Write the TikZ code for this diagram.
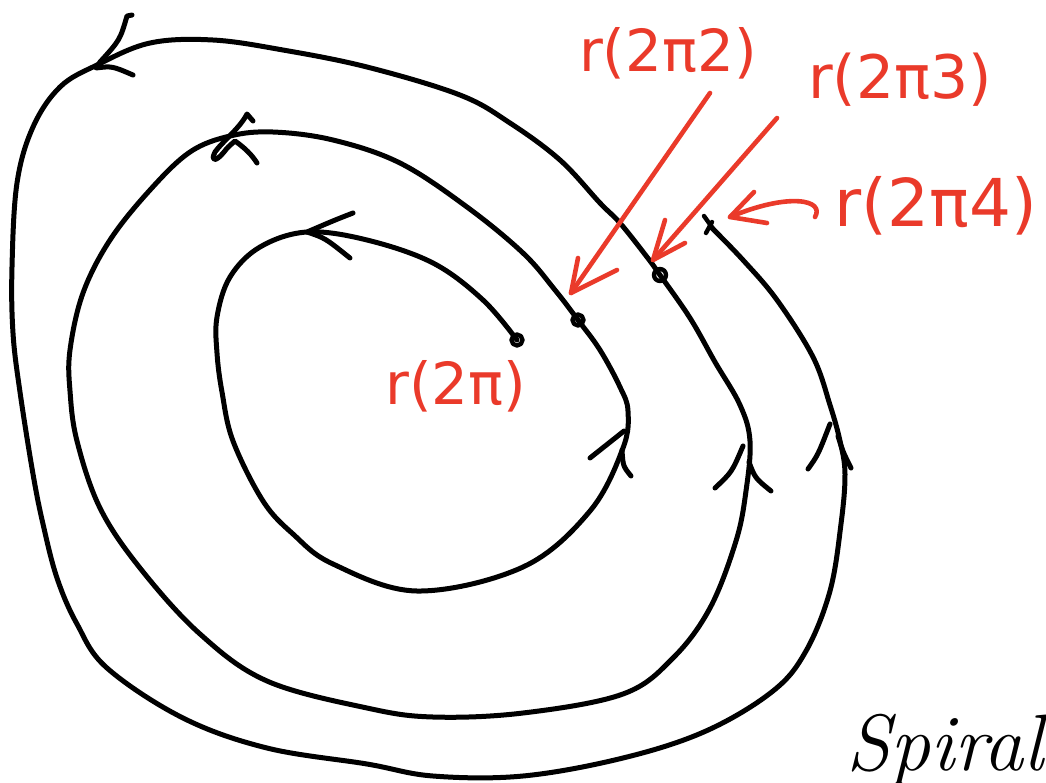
\documentclass[tikz,border=0pt]{standalone}
\usepackage{fontspec}
\newfontfamily\handfont{DejaVu Sans}
\definecolor{penred}{RGB}{234,58,42}
\tikzset{
  ink/.style={line width=2.5pt, line cap=round, line join=round, black},
  redink/.style={line width=2.3pt, line cap=round, line join=round, penred},
  dotmark/.style={ink, line width=2.2pt},
  lbl/.style={text=penred, inner sep=0pt, font=\handfont}
}
\begin{document}
\begin{tikzpicture}[x=0.5pt, y=-0.5pt]
\useasboundingbox (0,0) rectangle (1046,783);
\fill[white] (0,0) rectangle (1046,783);

% named points on the spiral
\coordinate (p1) at (517,340);
\coordinate (p2) at (578,320);
\coordinate (p3) at (660,275);
\coordinate (p4) at (711,227);

% the spiral
\draw[ink] plot[smooth, tension=0.6] coordinates {
 (517,340) (483,300) (433,263) (367,240) (307,232) (260,247) (230,277)
 (217,317) (217,353) (222,392) (233,441) (263,501) (293,534) (333,564)
 (417,591) (523,567) (590,511) (623,448) (628,411) (620,387) (600,350)
 (578,320) (555,290) (523,253) (467,207) (400,163) (333,140) (273,132)
 (230,136) (190,152) (150,190) (110,240) (83,293) (70,350) (70,391)
 (77,441) (100,508) (140,568) (200,634) (267,681) (367,708) (433,717)
 (523,713) (623,694) (673,658) (710,608) (736,541) (746,491) (750,441)
 (740,405) (715,362) (690,318) (660,275) (647,257) (620,223) (600,203)
 (560,160) (510,123) (460,95) (367,67) (283,50) (213,40) (150,43) (97,65)
 (60,87) (33,127)
 (17,183) (12,267) (13,333) (20,392) (33,474) (43,524) (57,578) (77,624)
 (107,668) (183,718) (267,748) (367,764) (433,776) (523,776) (623,758)
 (706,731) (773,691) (806,651) (830,591) (841,524) (845,474) (840,441)
 (830,405) (813,357) (777,300) (743,260) (711,227)};

% small loops at the marked points
\draw[dotmark] (p1) circle[radius=5.5];
\draw[dotmark] (p2) circle[radius=5.5];
\draw[dotmark] (p3) circle[radius=6];
\draw[dotmark] (704,216) -- (714,230);
\draw[dotmark] (706,233) -- (712,222);

% hand-drawn arrowheads on the spiral
\draw[ink] (353,213) .. controls (335,220) .. (307,232) .. controls (325,238) .. (350,258);
\draw[ink] (253,121) -- (247,114) .. controls (240,128) and (222,142) .. (215,152)
  .. controls (210,162) and (216,162) .. (224,152) .. controls (228,147) .. (235,141)
  .. controls (245,148) and (252,155) .. (257,163);
\draw[ink] (132,15) -- (127,16) .. controls (120,40) .. (100,62) -- (96,68) .. controls (112,66) .. (133,75);
\draw[ink] (590,458) -- (624,431);
\draw[ink] (622,450) .. controls (623,466) .. (631,476);
\draw[ink] (715,488) .. controls (732,472) .. (743,446);
\draw[ink] (749,462) .. controls (755,478) .. (771,491);
\draw[ink] (808,469) .. controls (818,455) .. (830,424);
\draw[ink] (838,436) .. controls (843,452) .. (851,468);

% labels
\node[lbl, font=\handfont\fontsize{29}{29}\selectfont] (l1) at (456,386) {r(2π)};
\node[lbl, font=\handfont\fontsize{29}{29}\selectfont] (l2) at (668,53) {r(2π2)};
\node[lbl, font=\handfont\fontsize{30}{30}\selectfont] (l3) at (900,80) {r(2π3)};
\node[lbl, font=\handfont\fontsize{33}{33}\selectfont] (l4) at (936,206) {r(2π4)};

% red arrows
\coordinate (t2) at (571,293);
\coordinate (t3) at (653,260);
\coordinate (t4) at (730,217);
\draw[redink] (710,93) -- (t2);
\draw[redink] (578,258) -- (t2) -- (617,270);
\draw[redink] (777,118) -- (t3);
\draw[redink] (665,220) -- (t3) -- (685,243);
\draw[redink] (815,217) .. controls (825,200) and (790,192) .. (t4);
\draw[redink] (754,192) -- (t4) -- (767,223);

% caption
\node[anchor=base west, inner sep=0pt, font=\itshape\fontsize{40}{40}\selectfont] (cap) at (846,770) {Spiral};
\end{tikzpicture}
\end{document}
